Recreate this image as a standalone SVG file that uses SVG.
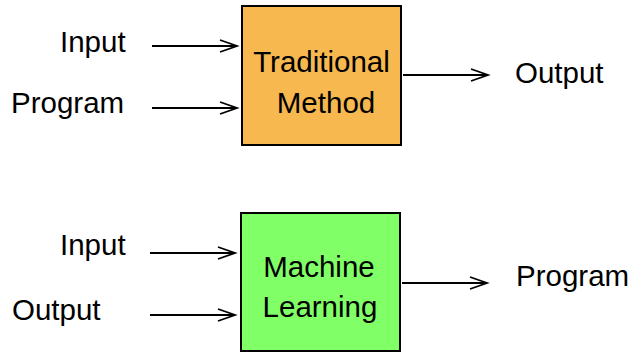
<svg xmlns="http://www.w3.org/2000/svg" width="632" height="354" viewBox="0 0 632 354">
<style>
text{font-family:"Liberation Sans",Arial,sans-serif;font-size:29.5px;fill:#000}
.c{text-anchor:middle}
.box{stroke:#000;stroke-width:2}
.ln{stroke:#000;stroke-width:1.8;fill:none}
.hd{stroke:#000;stroke-width:1.8;fill:none;stroke-linejoin:miter}
</style>
<rect width="632" height="354" fill="#fff"/>
<g id="connectors">
<line class="ln" x1="152" y1="46" x2="237" y2="46"/><polyline class="hd" points="220,40 237,46 220,52"/>
<line class="ln" x1="152" y1="108" x2="237" y2="108"/><polyline class="hd" points="220,102 237,108 220,114"/>
<line class="ln" x1="403" y1="75" x2="488" y2="75"/><polyline class="hd" points="471,69 488,75 471,81"/>
<line class="ln" x1="150" y1="253" x2="235" y2="253"/><polyline class="hd" points="218,247 235,253 218,259"/>
<line class="ln" x1="150" y1="315" x2="235" y2="315"/><polyline class="hd" points="218,309 235,315 218,321"/>
<line class="ln" x1="402" y1="283" x2="487" y2="283"/><polyline class="hd" points="470,277 487,283 470,289"/>
</g>
<g id="input1"><text x="60" y="52">Input</text></g>
<g id="program1"><text x="11" y="113">Program</text></g>
<g id="traditional"><rect class="box" x="242" y="6" width="159" height="139" fill="#f7b84f"/><text class="c" x="321.5" y="72">Traditional</text><text class="c" x="326" y="113">Method</text></g>
<g id="output1"><text x="515" y="83">Output</text></g>
<g id="input2"><text x="60" y="255">Input</text></g>
<g id="output2"><text x="12" y="320">Output</text></g>
<g id="ml"><rect class="box" x="241" y="213" width="159" height="138" fill="#80ff66"/><text class="c" x="319" y="277">Machine</text><text class="c" x="320" y="317">Learning</text></g>
<g id="program2"><text x="516" y="286">Program</text></g>
</svg>
